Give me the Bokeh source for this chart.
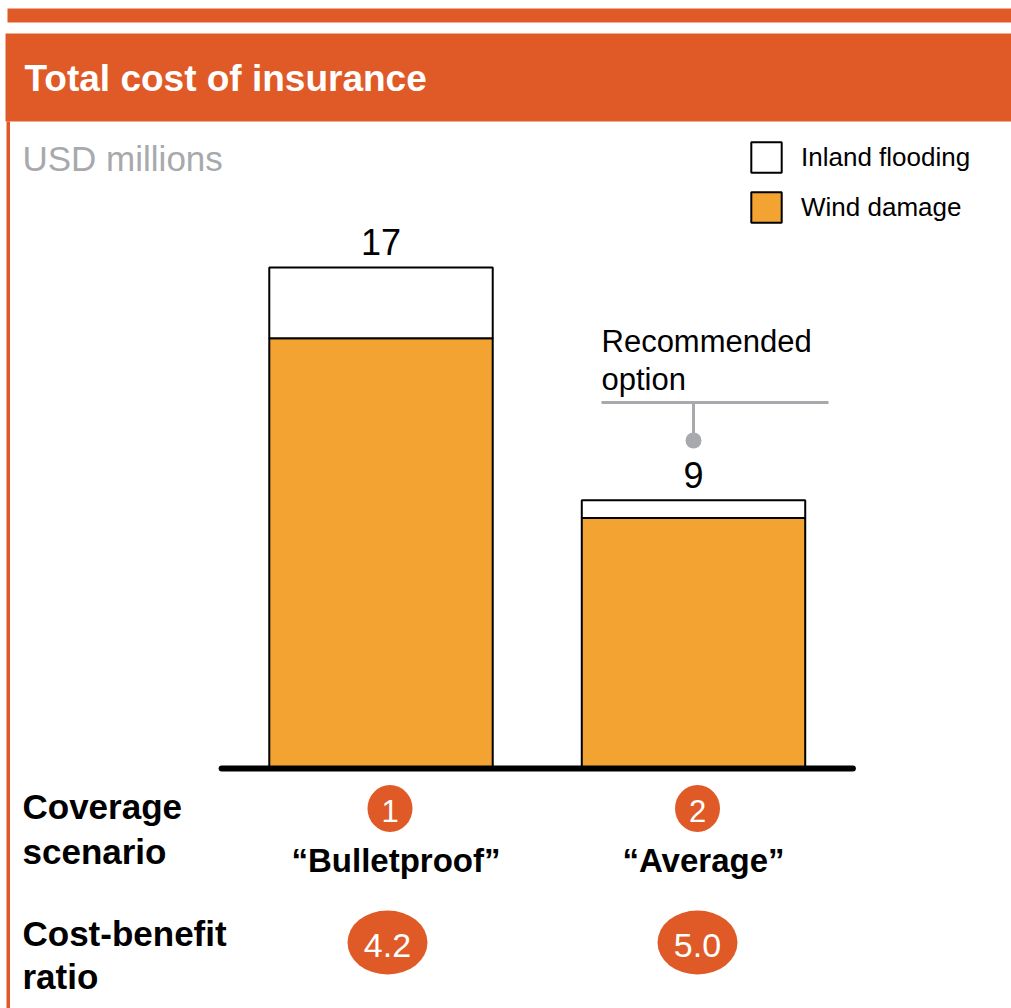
from bokeh.plotting import figure
from bokeh.models import Range1d, Label, Legend, LegendItem
from bokeh.core.properties import value
from bokeh.embed import file_html
from bokeh.resources import INLINE

# ---------------- data ----------------
scenarios = ["\u201cBulletproof\u201d", "\u201cAverage\u201d"]
scenario_numbers = ["1", "2"]
wind_damage = [14.6, 8.5]
inland_flooding = [2.4, 0.6]
total_labels = ["17", "9"]
cost_benefit = ["4.2", "5.0"]
series_names = ["Inland flooding", "Wind damage"]
title_text = "Total cost of insurance"
unit_text = "USD millions"
callout_lines = ["Recommended", "option"]
row_titles = [["Coverage", "scenario"], ["Cost-benefit", "ratio"]]

# ---------------- layout ----------------
W, H = 1011, 1008
BASE_PY = 768
PX_PER_UNIT = 501 / 17
X0_PY = 380.5
X_STEP = 312.5

XS = -X0_PY / X_STEP
XE = XS + W / X_STEP
YE = BASE_PY / PX_PER_UNIT
YS = YE - H / PX_PER_UNIT


def dx(px):
    return XS + px / X_STEP


def dy(py):
    return YE - py / PX_PER_UNIT


def ty(baseline_py, size):
    # place text so that its alphabetic baseline lands on baseline_py
    return dy(baseline_py - 0.35 * size)


HDR = "#E05A28"
BAR_ORANGE = "#F2A332"
GRAY = "#A7A9AC"
FONT = "Liberation Sans"

p = figure(width=W, height=H, x_range=Range1d(XS, XE), y_range=Range1d(YS, YE),
           output_backend="svg", toolbar_location=None,
           x_axis_location=None, y_axis_location=None, min_border=0)
p.outline_line_color = None
p.background_fill_color = "white"
p.border_fill_color = "white"
p.grid.visible = False

# frame decorations
p.quad(left=[dx(7)], right=[dx(1011)], top=[dy(8)], bottom=[dy(22)],
       fill_color=HDR, line_color=None)
p.quad(left=[dx(5)], right=[dx(1011)], top=[dy(33)], bottom=[dy(121)],
       fill_color=HDR, line_color=None)
p.quad(left=[dx(6)], right=[dx(9.5)], top=[dy(121)], bottom=[dy(1010)],
       fill_color=HDR, line_color=None)

p.add_layout(Label(x=dx(24), y=ty(91, 37), text=title_text, text_color="white",
                   text_font=FONT, text_font_style="bold", text_font_size="37px",
                   text_baseline="alphabetic"))
p.add_layout(Label(x=dx(22), y=ty(170, 35), text=unit_text, text_color=GRAY,
                   text_font=FONT, text_font_size="35px", text_baseline="alphabetic"))

# bars
xs = list(range(len(scenarios)))
tops = [w + f for w, f in zip(wind_damage, inland_flooding)]
wind_r = p.vbar(x=xs, bottom=0, top=wind_damage, width=0.715,
                fill_color=BAR_ORANGE, line_color="black", line_width=2)
flood_r = p.vbar(x=xs, bottom=wind_damage, top=tops, width=0.715,
                 fill_color="white", line_color="black", line_width=2)

# baseline
p.segment(x0=[xs[0] - 0.51], x1=[xs[-1] + 0.51], y0=[0], y1=[0],
          line_color="black", line_width=6, line_cap="round")

# total labels
gap = (13 + 0.35 * 36) / PX_PER_UNIT
p.text(x=xs, y=[t + gap for t in tops], text=total_labels,
       text_font=value(FONT), text_font_size="36px", text_color="black",
       text_align="center", text_baseline="alphabetic")

# callout
p.add_layout(Label(x=dx(601), y=ty(352, 31), text=callout_lines[0], text_font=FONT,
                   text_font_size="31px", text_color="black", text_baseline="alphabetic"))
p.add_layout(Label(x=dx(601), y=ty(390, 31), text=callout_lines[1], text_font=FONT,
                   text_font_size="31px", text_color="black", text_baseline="alphabetic"))
p.segment(x0=[dx(601)], x1=[dx(828)], y0=[dy(402)], y1=[dy(402)],
          line_color=GRAY, line_width=3)
p.segment(x0=[xs[1]], x1=[xs[1]], y0=[dy(402)], y1=[dy(440)],
          line_color=GRAY, line_width=3)
p.scatter(x=[xs[1]], y=[dy(440)], size=16, marker="circle",
          fill_color=GRAY, line_color=None)

# legend (bar legend glyphs are drawn inset by 10% on each side)
GW = 38
legend = Legend(items=[LegendItem(label=series_names[0], renderers=[flood_r]),
                       LegendItem(label=series_names[1], renderers=[wind_r])],
                location=(747, H - 226), orientation="vertical",
                glyph_width=GW, glyph_height=GW, label_height=GW,
                label_standoff=16, spacing=12, padding=0, margin=0,
                border_line_color=None, background_fill_alpha=0,
                label_text_font=FONT, label_text_font_size="26px",
                label_text_color="black")
p.add_layout(legend)

# bottom rows
shift = [9 / X_STEP, 4 / X_STEP]
cx = [x + s for x, s in zip(xs, shift)]
p.ellipse(x=cx, y=[dy(808)] * 2, width=45, height=47,
          width_units="screen", height_units="screen",
          fill_color=HDR, line_color=None)
p.text(x=cx, y=[ty(821, 31)] * 2, text=scenario_numbers, text_font=value(FONT),
       text_font_size="31px", text_color="white", text_align="center",
       text_baseline="alphabetic")
p.text(x=[c + 6 / X_STEP for c in cx], y=[ty(872, 33)] * 2, text=scenarios,
       text_font=value(FONT), text_font_style="bold", text_font_size="33px",
       text_color="black", text_align="center", text_baseline="alphabetic")

ecx = [xs[0] + 6.5 / X_STEP, xs[1] + 4 / X_STEP]
p.ellipse(x=ecx, y=[dy(942)] * 2, width=80, height=64,
          width_units="screen", height_units="screen",
          fill_color=HDR, line_color=None)
p.text(x=ecx, y=[ty(957, 34)] * 2, text=cost_benefit, text_font=value(FONT),
       text_font_size="34px", text_color="white", text_align="center",
       text_baseline="alphabetic")

for lines, (b1, b2) in zip(row_titles, [(818, 863), (945, 988)]):
    for t, b in zip(lines, (b1, b2)):
        p.add_layout(Label(x=dx(22), y=ty(b, 35), text=t, text_font=FONT,
                           text_font_style="bold", text_font_size="35px",
                           text_color="black", text_baseline="alphabetic"))

open("out.html", "w").write(file_html(p, INLINE))
